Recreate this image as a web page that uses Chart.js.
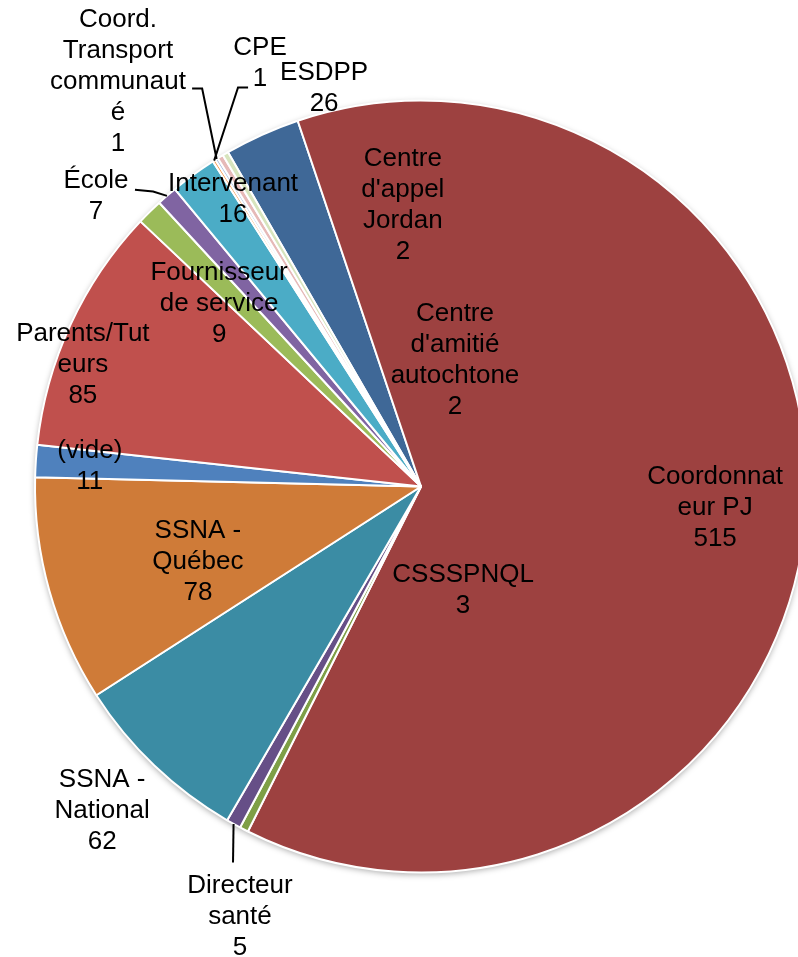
<!DOCTYPE html>
<html>
<head>
<meta charset="utf-8">
<script src="https://cdn.jsdelivr.net/npm/chart.js@4"></script>
<style>
    html, body { margin: 0; padding: 0; background: #fff; overflow: hidden; }
    body { width: 798px; height: 957px; }
    #wrap { width: 842px; height: 957px; position: relative; }
</style>
</head>
<body>
<div id="wrap"><canvas id="chart-demandeurs"></canvas></div>
<script>

// slices in drawing order (clockwise, first one starts at 330 deg)
var categories = [
    'ESDPP', 'Coordonnateur PJ', 'CSSSPNQL', 'Directeur santé', 'SSNA - National',
    'SSNA - Québec', '(vide)', 'Parents/Tuteurs', 'Fournisseur de service', 'École',
    'Intervenant', 'CPE', 'Coord. Transport communauté', "Centre d'appel Jordan",
    "Centre d'amitié autochtone"
];
var values = [26, 515, 3, 5, 62, 78, 11, 85, 9, 7, 16, 1, 1, 2, 2];

var sliceColors = [
    '#3F6897', '#9D4140', '#7E9F46', '#664F87', '#3B8CA4',
    '#CF7B38', '#4F81BD', '#C0504D', '#9BBB59', '#8064A2',
    '#4BACC6', '#F79646', '#A9BCE0', '#E6B9B8', '#D7E4BD'
];

// where Excel put each label block, in radius units from the pie centre
var labelPlace = [
    [-0.251, -1.031], [0.762, 0.054], [0.109, 0.269], [-0.469, 1.114], [-0.826, 0.839],
    [-0.578, 0.194], [-0.858, -0.052], [-0.876, -0.316], [-0.523, -0.474], [-0.842, -0.751],
    [-0.487, -0.744], [-0.417, -1.096], [-0.785, -1.049], [-0.047, -0.728], [0.088, -0.326]
];

// leader lines: text-side points, the last segment goes to the slice edge
var leaders = {
    3: [[-0.487, 0.974]],
    9: [[-0.741, -0.769], [-0.694, -0.764]],
    11: [[-0.448, -1.034], [-0.474, -1.034]],
    12: [[-0.593, -1.031], [-0.567, -1.031]]
};

var FONT = '26px "Liberation Sans", Arial, sans-serif';
var LINE_H = 31;
var WRAP_W = 142;

function wrapLabel(ctx, text) {
    var out = [];
    var words = text.split(' ');
    var line = '';
    words.forEach(function (w) {
        var test = line ? line + ' ' + w : w;
        if (ctx.measureText(test).width <= WRAP_W) {
            line = test;
            return;
        }
        if (line) out.push(line);
        line = '';
        // word too long on its own: cut it by characters
        var piece = '';
        for (var c of w) {
            if (ctx.measureText(piece + c).width > WRAP_W && piece) {
                out.push(piece);
                piece = c;
            } else {
                piece += c;
            }
        }
        line = piece;
    });
    if (line) out.push(line);
    return out;
}

var pieShadow = {
    id: 'pieShadow',
    beforeDatasetsDraw: function (chart) {
        var arc = chart.getDatasetMeta(0).data[0];
        var ctx = chart.ctx;
        ctx.save();
        ctx.beginPath();
        ctx.arc(arc.x, arc.y, arc.outerRadius, 0, Math.PI * 2);
        ctx.fillStyle = '#fff';
        ctx.shadowColor = 'rgba(0,0,0,0.35)';
        ctx.shadowBlur = 6;
        ctx.shadowOffsetY = 2;
        ctx.fill();
        ctx.restore();
    }
};

var sliceLabels = {
    id: 'sliceLabels',
    afterDatasetsDraw: function (chart) {
        var ctx = chart.ctx;
        var arcs = chart.getDatasetMeta(0).data;
        var cx = arcs[0].x, cy = arcs[0].y, R = arcs[0].outerRadius;

        ctx.save();
        ctx.font = FONT;
        ctx.fillStyle = '#000';
        ctx.textAlign = 'center';
        ctx.textBaseline = 'middle';

        arcs.forEach(function (arc, i) {
            var lines = wrapLabel(ctx, categories[i]);
            lines.push(String(values[i]));
            var bx = cx + labelPlace[i][0] * R;
            var by = cy + labelPlace[i][1] * R;
            lines.forEach(function (l, k) {
                ctx.fillText(l, bx, by + (k - (lines.length - 1) / 2) * LINE_H);
            });

            if (leaders[i]) {
                var mid = (arc.startAngle + arc.endAngle) / 2;
                ctx.beginPath();
                leaders[i].forEach(function (p, k) {
                    var px = cx + p[0] * R, py = cy + p[1] * R;
                    if (k === 0) ctx.moveTo(px, py); else ctx.lineTo(px, py);
                });
                ctx.lineTo(cx + Math.cos(mid) * R, cy + Math.sin(mid) * R);
                ctx.strokeStyle = '#000';
                ctx.lineWidth = 2;
                ctx.stroke();
            }
        });
        ctx.restore();
    }
};

new Chart(
    document.getElementById('chart-demandeurs'),
    {
        type: 'pie',
        data: {
            labels: categories,
            datasets: [
                {
                    data: values,
                    backgroundColor: sliceColors,
                    borderColor: '#fff',
                    borderWidth: 2,
                    radius: 386
                }
            ]
        },
        options: {
            maintainAspectRatio: false,
            responsive: true,
            animation: false,
            rotation: 330,
            layout: { padding: { top: 101, bottom: 85, left: 0, right: 0 } },
            plugins: {
                legend: { display: false },
                tooltip: { enabled: false }
            }
        },
        plugins: [pieShadow, sliceLabels]
    }
);

</script>
</body>
</html>
